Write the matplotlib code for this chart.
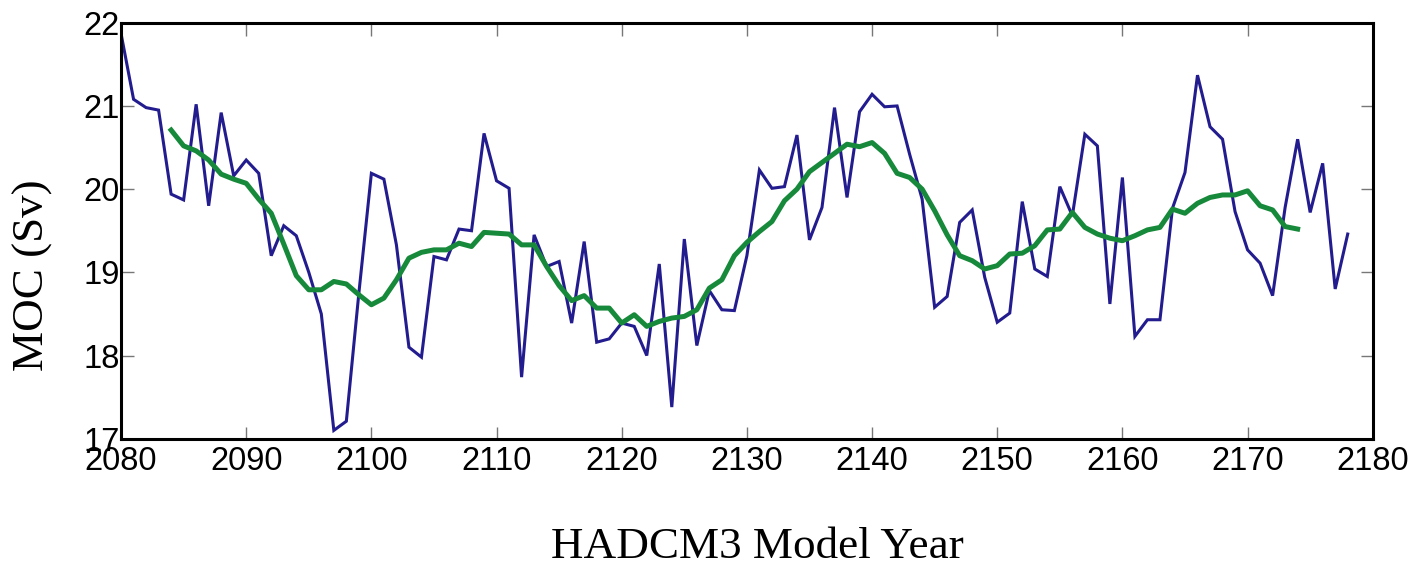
import numpy as np
import matplotlib
matplotlib.use("Agg")
import matplotlib.pyplot as plt

# %% Data

years = np.arange(2080, 2179)
moc = [
    21.87, 21.08, 20.98, 20.95, 19.94, 19.87, 21.02, 19.80, 20.92, 20.16,
    20.35, 20.19, 19.20, 19.56, 19.44, 19.00, 18.50, 17.10, 17.21, 18.75,
    20.19, 20.12, 19.33, 18.10, 17.98, 19.19, 19.15, 19.52, 19.50, 20.67,
    20.10, 20.01, 17.74, 19.45, 19.07, 19.13, 18.39, 19.37, 18.16, 18.20,
    18.39, 18.35, 18.00, 19.10, 17.38, 19.40, 18.12, 18.78, 18.55, 18.54,
    19.20, 20.23, 20.01, 20.03, 20.65, 19.39, 19.78, 20.98, 19.90, 20.93,
    21.14, 20.99, 21.00, 20.42, 19.88, 18.58, 18.71, 19.60, 19.75, 18.94,
    18.40, 18.51, 19.85, 19.04, 18.95, 20.03, 19.68, 20.66, 20.52, 18.62,
    20.14, 18.23, 18.43, 18.43, 19.77, 20.20, 21.37, 20.75, 20.60, 19.73,
    19.27, 19.11, 18.72, 19.78, 20.60, 19.72, 20.31, 18.80, 19.46,
]

smooth_years = np.arange(2084, 2175)
moc_smooth = [
    20.71, 20.52, 20.46, 20.35, 20.18, 20.12, 20.07, 19.88, 19.71, 19.34,
    18.96, 18.79, 18.79, 18.89, 18.86, 18.73, 18.61, 18.69, 18.91, 19.17,
    19.24, 19.27, 19.27, 19.35, 19.31, 19.48, 19.47, 19.46, 19.33, 19.33,
    19.07, 18.84, 18.66, 18.72, 18.57, 18.57, 18.39, 18.49, 18.35, 18.41,
    18.45, 18.47, 18.55, 18.81, 18.91, 19.20, 19.36, 19.49, 19.61, 19.86,
    20.00, 20.21, 20.32, 20.43, 20.54, 20.51, 20.56, 20.43, 20.19, 20.14,
    20.00, 19.74, 19.45, 19.20, 19.14, 19.04, 19.08, 19.22, 19.23, 19.32,
    19.51, 19.52, 19.72, 19.54, 19.46, 19.41, 19.38, 19.44, 19.51, 19.54,
    19.76, 19.71, 19.83, 19.90, 19.93, 19.93, 19.98, 19.80, 19.75, 19.55,
    19.52,
]

x_ticks = np.arange(2080, 2181, 10)
y_ticks = np.arange(17, 23, 1)

# %% Plot

fig = plt.figure(figsize=(14.19, 5.69), dpi=100)
ax = fig.add_axes([0.0853, 0.229, 0.8821, 0.731])

ax.plot(years, moc, color="#221c8e", linewidth=2.2, solid_joinstyle="miter")
ax.plot(smooth_years, moc_smooth, color="#17893a", linewidth=3.6)

ax.set_xlim(2080, 2180)
ax.set_ylim(17, 22)
ax.set_xticks(x_ticks)
ax.set_yticks(y_ticks)

tick_font = {"family": "Liberation Sans", "size": 23.5}
ax.set_xticklabels([str(v) for v in x_ticks], fontdict=tick_font)
ax.set_yticklabels([str(v) for v in y_ticks], fontdict=tick_font)
ax.tick_params(
    direction="in", length=9, width=1.0, color="#777777",
    top=True, right=True, pad=1,
)
ax.tick_params(axis="x", pad=5)

for spine in ax.spines.values():
    spine.set_linewidth(2.2)
    spine.set_color("black")

fig.text(
    0.534, 0.02, "HADCM3 Model Year",
    family="Liberation Serif", fontsize=32.5, ha="center", va="baseline",
)
fig.text(
    0.023, 0.517, "MOC (Sv)",
    family="Liberation Serif", fontsize=32.5, ha="center", va="center",
    rotation=90,
)

fig.savefig("out.png", dpi=100)
